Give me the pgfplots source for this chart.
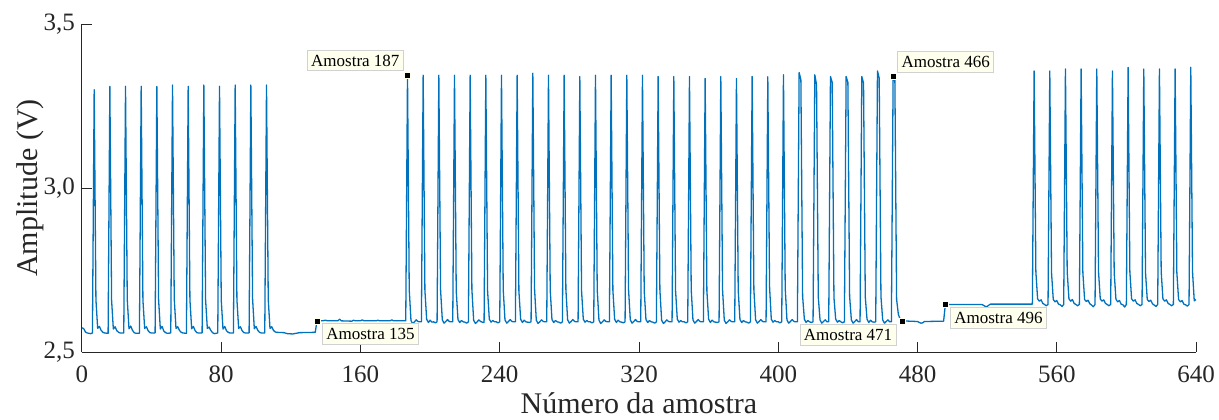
\documentclass[border=0pt]{standalone}
\usepackage{fontspec}
\setmainfont{Liberation Serif}
\usepackage{pgfplots}
\usepackage{pgfplotstable}
\pgfplotsset{compat=1.18}
\definecolor{mblue}{rgb}{0,0.447,0.741}
\definecolor{axc}{rgb}{0.15,0.15,0.15}
\definecolor{tipbg}{rgb}{1,1,0.933}
\definecolor{tipedge}{rgb}{0.82,0.82,0.82}

% segment 1: samples 0-135
\pgfplotstableread{
x y
0 2.574
1 2.571
2 2.561
3 2.558
5 2.556
6 2.558
7 3.300
8 2.660
9 2.572
10 2.578
11 2.566
12 2.560
13 2.558
15 2.557
16 3.310
17 2.658
18 2.570
19 2.577
20 2.565
21 2.560
22 2.558
24 2.558
25 3.310
26 2.660
27 2.571
28 2.579
29 2.566
30 2.559
31 2.557
33 2.557
34 3.310
35 2.658
36 2.572
37 2.577
38 2.565
39 2.559
40 2.558
42 2.558
43 3.310
44 2.660
45 2.570
46 2.578
47 2.564
48 2.559
49 2.557
51 2.558
52 3.314
53 2.662
54 2.572
55 2.577
56 2.566
57 2.560
58 2.558
60 2.557
61 3.310
62 2.660
63 2.571
64 2.578
65 2.565
66 2.559
67 2.558
69 2.558
70 3.314
71 2.660
72 2.572
73 2.576
74 2.566
75 2.559
76 2.556
77 2.557
78 2.558
79 3.310
80 2.658
81 2.570
82 2.578
83 2.565
84 2.560
85 2.558
87 2.558
88 3.314
89 2.660
90 2.572
91 2.577
92 2.565
93 2.559
94 2.558
96 2.558
97 3.314
98 2.662
99 2.571
100 2.578
101 2.566
102 2.560
103 2.558
105 2.558
106 3.314
107 2.660
108 2.572
109 2.577
110 2.566
111 2.561
112 2.560
116 2.559
118 2.556
121 2.555
123 2.557
125 2.559
134 2.560
135 2.595
}\segA

% segment 2: samples 135-496
\pgfplotstableread{
x y
135 2.595
138 2.595
140 2.597
141 2.595
147 2.595
148 2.600
149 2.595
155 2.594
156 2.597
157 2.595
160 2.595
161 2.598
162 2.595
169 2.595
170 2.597
171 2.595
177 2.595
178 2.598
179 2.595
186 2.595
187 3.344
188 2.690
189 2.596
190 2.586
191 2.592
192 2.598
193 2.593
194 2.592
195 2.592
196 3.344
197 2.688
198 2.600
199 2.590
200 2.597
201 2.591
202 2.592
203 2.589
204 2.592
205 3.344
206 2.690
207 2.598
208 2.588
209 2.593
210 2.599
211 2.593
212 2.592
213 2.592
214 3.344
215 2.686
216 2.599
217 2.590
218 2.596
219 2.592
220 2.591
221 2.588
222 2.592
223 3.344
224 2.690
225 2.597
226 2.587
227 2.592
228 2.598
229 2.593
230 2.591
231 2.590
232 3.344
233 2.688
234 2.600
235 2.591
236 2.596
237 2.592
238 2.592
239 2.589
240 2.592
241 3.344
242 2.690
243 2.598
244 2.588
245 2.593
246 2.599
247 2.593
248 2.592
249 2.592
250 3.344
251 2.686
252 2.600
253 2.590
254 2.597
255 2.592
256 2.591
257 2.590
258 2.592
259 3.350
260 2.692
261 2.597
262 2.587
263 2.592
264 2.598
265 2.593
266 2.592
267 2.592
268 3.344
269 2.688
270 2.599
271 2.590
272 2.596
273 2.592
274 2.591
275 2.588
276 2.592
277 3.344
278 2.690
279 2.598
280 2.588
281 2.593
282 2.599
283 2.593
284 2.592
285 2.592
286 3.340
287 2.686
288 2.600
289 2.591
290 2.596
291 2.592
292 2.592
293 2.589
294 2.592
295 3.344
296 2.690
297 2.597
298 2.587
299 2.592
300 2.598
301 2.593
302 2.592
303 2.592
304 3.344
305 2.688
306 2.600
307 2.590
308 2.597
309 2.592
310 2.591
311 2.589
312 2.592
313 3.344
314 2.690
315 2.598
316 2.588
317 2.593
318 2.599
319 2.593
320 2.592
321 2.592
322 3.344
323 2.686
324 2.599
325 2.590
326 2.596
327 2.592
328 2.591
329 2.588
330 2.592
331 3.340
332 2.690
333 2.597
334 2.587
335 2.592
336 2.598
337 2.593
338 2.592
339 2.592
340 3.340
341 2.688
342 2.600
343 2.591
344 2.596
345 2.592
346 2.592
347 2.589
348 2.592
349 3.340
350 2.690
351 2.598
352 2.588
353 2.593
354 2.599
355 2.593
356 2.592
357 2.592
358 3.334
359 2.686
360 2.600
361 2.590
362 2.597
363 2.592
364 2.591
365 2.590
366 2.592
367 3.340
368 2.690
369 2.597
370 2.587
371 2.592
372 2.598
373 2.593
374 2.592
375 2.592
376 3.334
377 2.688
378 2.599
379 2.590
380 2.596
381 2.592
382 2.591
383 2.588
384 2.592
385 3.340
386 2.690
387 2.598
388 2.588
389 2.593
390 2.599
391 2.593
392 2.592
393 2.592
394 3.339
395 2.700
396 2.600
397 2.591
398 2.596
399 2.592
400 2.592
401 2.589
402 2.592
403 3.345
404 2.695
405 2.598
406 2.588
407 2.593
408 2.599
409 2.593
410 2.592
411 2.592
412 3.352
413 3.330
414 2.670
415 2.600
416 2.590
417 2.596
418 2.592
419 2.590
420 2.592
421 3.345
422 3.315
423 2.668
424 2.598
425 2.588
426 2.593
427 2.598
428 2.592
429 2.592
430 3.340
431 3.322
432 2.666
433 2.600
434 2.591
435 2.596
436 2.592
437 2.589
438 2.592
439 3.340
440 3.322
441 2.670
442 2.598
443 2.588
444 2.593
445 2.599
446 2.592
447 2.592
448 3.340
449 3.320
450 2.668
451 2.600
452 2.590
453 2.597
454 2.592
455 2.591
456 2.592
457 3.357
458 3.335
459 2.670
460 2.598
461 2.588
462 2.593
463 2.598
464 2.592
465 2.592
466 3.340
467 3.330
468 2.660
469 2.615
470 2.600
471 2.595
480 2.593
481 2.590
482 2.588
483 2.589
484 2.593
495 2.594
496 2.645
}\segB

% segment 3 and 4: samples 496-640
\pgfplotstableread{
x y
496 2.645
517 2.645
518 2.642
519 2.639
520 2.639
521 2.643
522 2.646
546 2.646
547 3.357
548 2.745
549 2.662
550 2.655
551 2.659
552 2.648
553 2.645
554 2.641
555 2.645
556 3.357
557 2.742
558 2.660
559 2.653
560 2.657
561 2.646
562 2.644
563 2.639
564 2.645
565 3.363
566 2.745
567 2.662
568 2.655
569 2.660
570 2.648
571 2.645
572 2.641
573 2.645
574 3.363
575 2.742
576 2.660
577 2.654
578 2.658
579 2.647
580 2.643
581 2.638
582 2.645
583 3.363
584 2.745
585 2.662
586 2.655
587 2.659
588 2.648
589 2.645
590 2.641
591 2.645
592 3.357
593 2.742
594 2.661
595 2.653
596 2.657
597 2.646
598 2.644
599 2.637
600 2.645
601 3.368
602 2.745
603 2.662
604 2.655
605 2.659
606 2.648
607 2.645
608 2.641
609 2.645
610 3.363
611 2.742
612 2.660
613 2.654
614 2.658
615 2.647
616 2.643
617 2.639
618 2.645
619 3.363
620 2.745
621 2.662
622 2.655
623 2.659
624 2.648
625 2.645
626 2.641
627 2.645
628 3.363
629 2.742
630 2.660
631 2.653
632 2.657
633 2.646
634 2.644
635 2.640
636 2.645
637 3.368
638 2.745
639 2.656
640 2.660
}\segC

\tikzset{tip/.style={fill=tipbg, draw=tipedge, line width=0.4pt,
  font=\fontsize{8.5}{10}\selectfont, text=black, inner xsep=2pt, inner ysep=2.3pt}}

\begin{document}
\begin{tikzpicture}
\begin{axis}[
  scale only axis, width=557pt, height=164pt,
  xmin=0, xmax=640, ymin=2.5, ymax=3.5,
  axis lines=left, axis line style={-, color=axc, line width=0.5pt},
  xtick={0,80,...,640}, ytick={2.5,3,3.5},
  tick align=inside, major tick length=5pt,
  tick style={color=axc, line width=0.5pt},
  /pgf/number format/assume math mode=true,
  ticklabel style={font=\fontsize{12.5}{14}\selectfont, text=axc},
  yticklabel style={/pgf/number format/fixed, /pgf/number format/fixed zerofill,
     /pgf/number format/precision=1, /pgf/number format/use comma},
  xticklabel style={yshift=-3.5pt},
  xlabel={Número da amostra}, ylabel={Amplitude (V)},
  label style={font=\fontsize{15}{18}\selectfont, text=axc},
  xlabel style={at={(axis description cs:0.5,-0.186)}, anchor=base},
  ylabel style={at={(axis description cs:-0.0395,0.5)}, anchor=base},
  clip=false,
]
\addplot[mblue, line width=0.65pt, line join=round, mark=none] table[x=x,y=y]{\segA};
\addplot[mblue, line width=0.65pt, line join=round, mark=none] table[x=x,y=y]{\segB};
\addplot[mblue, line width=0.65pt, line join=round, mark=none] table[x=x,y=y]{\segC};
\addplot[only marks, mark=square*, mark size=1.5pt,
  mark options={fill=black, draw=tipbg, line width=0.3pt}]
  coordinates {(135,2.595) (187,3.344) (466,3.340) (471,2.595) (496,2.645)};
\node[tip, anchor=south east, xshift=-1.8pt, yshift=2pt] at (axis cs:187,3.344) {Amostra 187};
\node[tip, anchor=north west, xshift=2.5pt, yshift=-1.3pt] at (axis cs:135,2.595) {Amostra 135};
\node[tip, anchor=south west, xshift=2pt, yshift=2pt] at (axis cs:466,3.340) {Amostra 466};
\node[tip, anchor=north east, xshift=-2.6pt, yshift=-1.8pt] at (axis cs:471,2.595) {Amostra 471};
\node[tip, anchor=north west, xshift=2.3pt, yshift=-1.3pt] at (axis cs:496,2.645) {Amostra 496};
\end{axis}
\pgfresetboundingbox
\useasboundingbox (-41pt,-33.5pt) rectangle (568.5pt,176pt);
\end{tikzpicture}
\end{document}
